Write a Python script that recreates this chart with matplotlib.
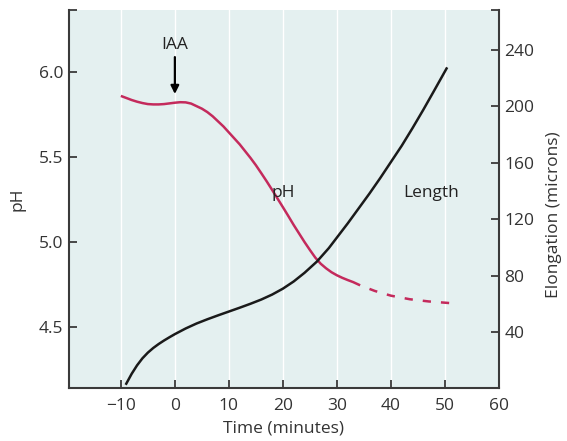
"""IAA処理後のpHと伸長の推移"""
import matplotlib.pyplot as plt
import numpy as np

plt.rcParams['font.family'] = ['Open Sans', 'DejaVu Sans']

# pH（実線部分）
ph_time = [-10, -9, -8, -7, -6, -5, -4, -3, -2, -1, 0, 1, 2, 3, 4, 5, 6, 7, 8, 9,
           10, 11, 12, 13, 14, 15, 16, 17, 18, 19, 20, 21, 22, 23, 24, 25, 26, 27,
           28, 29, 30, 31, 32, 33, 34.3]
ph_vals = [5.86, 5.848, 5.836, 5.826, 5.818, 5.812, 5.81, 5.81, 5.812, 5.816, 5.82,
           5.823, 5.822, 5.815, 5.80, 5.785, 5.765, 5.74, 5.71, 5.68, 5.645, 5.61,
           5.575, 5.535, 5.495, 5.452, 5.405, 5.357, 5.307, 5.256, 5.205, 5.153,
           5.10, 5.05, 5.0, 4.953, 4.908, 4.872, 4.845, 4.822, 4.804, 4.789, 4.776,
           4.764, 4.745]
# pH（破線部分）
ph_dash_time = [34.3, 37, 40, 43.5, 47, 51.5]
ph_dash_vals = [4.745, 4.712, 4.684, 4.663, 4.65, 4.639]

# 伸長 (microns)
len_time = [-9, -8, -7, -6, -5, -4, -3, -2, -1, 0, 2, 4, 6, 8, 10, 12, 14, 16, 18,
            20, 22, 24, 26.3, 28.5, 30, 32, 34, 36, 38, 40, 42, 44, 46, 48, 50.3]
len_vals = [3.5, 10.5, 16.5, 21.5, 25.5, 28.8, 31.6, 34.1, 36.4, 38.6, 42.6, 46.1,
            49.1, 51.9, 54.6, 57.3, 60.1, 63.1, 66.6, 70.8, 75.9, 82, 90, 99.5,
            107, 117, 127.5, 138, 149, 160.5, 172, 184.5, 197.5, 211, 226.7]

x_ticks = [-10, 0, 10, 20, 30, 40, 50, 60]
ph_ticks = [4.5, 5.0, 5.5, 6.0]
len_ticks = [40, 80, 120, 160, 200, 240]

red = '#c42a5c'
spine_c = '#3a3a3a'
txt_c = '#333333'
fs = 12.5
fs_lab = 12.5

fig = plt.figure(figsize=(5.67, 4.41), dpi=100)
ax = fig.add_axes([0.1217, 0.120, 0.7583, 0.857])
ax.set_facecolor('#e4f0f0')
ax2 = ax.twinx()

for xt in x_ticks[:-1]:
    ax.axvline(xt, color='white', linewidth=1.0, zorder=0)

ax.plot(ph_time, ph_vals, color=red, linewidth=1.8, solid_capstyle='butt')
ax.plot(ph_dash_time, ph_dash_vals, color=red, linewidth=1.8,
        linestyle=(3.3, (3.3, 4.0)), dash_capstyle='butt')
ax2.plot(len_time, len_vals, color='#1a1a1a', linewidth=1.8)

ax.set_xlim(-19.6, 60)
ax.set_ylim(4.14, 6.365)
ax2.set_ylim(0.4, 268)

ax.set_xticks(x_ticks)
ax.set_xticklabels(['\u221210'] + [str(v) for v in x_ticks[1:]])
ax.set_yticks(ph_ticks + [6.365])
ax.set_yticklabels([f'{v:.1f}' for v in ph_ticks] + [''])
ax2.set_yticks(len_ticks + [268])
ax2.set_yticklabels([str(v) for v in len_ticks] + [''])

for a in (ax, ax2):
    a.spines['top'].set_visible(False)
    for s in a.spines.values():
        s.set_color(spine_c)
        s.set_linewidth(1.5)
    a.tick_params(direction='in', length=6, width=1.3, color=spine_c,
                  labelsize=fs, labelcolor=txt_c, pad=4)
ax.tick_params(axis='x', pad=7)
ax.spines['right'].set_visible(False)
ax2.spines['left'].set_visible(False)
ax2.spines['bottom'].set_visible(False)

ax.set_xlabel('Time (minutes)', fontsize=fs_lab, color=txt_c, labelpad=5)
ax.set_ylabel('pH', fontsize=fs_lab, color=txt_c, labelpad=10)
ax2.set_ylabel('Elongation (microns)', fontsize=fs_lab, color=txt_c, labelpad=8)
ax2.yaxis.label.set_y(0.458)

ax.annotate('', xy=(0, 5.855), xytext=(0, 6.105),
            arrowprops=dict(arrowstyle='-|>', color='black', lw=1.6, mutation_scale=12))
ax.text(0, 6.16, 'IAA', ha='center', va='center', fontsize=fs, color='#222222')
ax.text(20, 5.29, 'pH', ha='center', va='center', fontsize=fs, color='#222222')
ax.text(47.5, 5.29, 'Length', ha='center', va='center', fontsize=fs, color='#222222')

plt.savefig('out.png', dpi=100)
